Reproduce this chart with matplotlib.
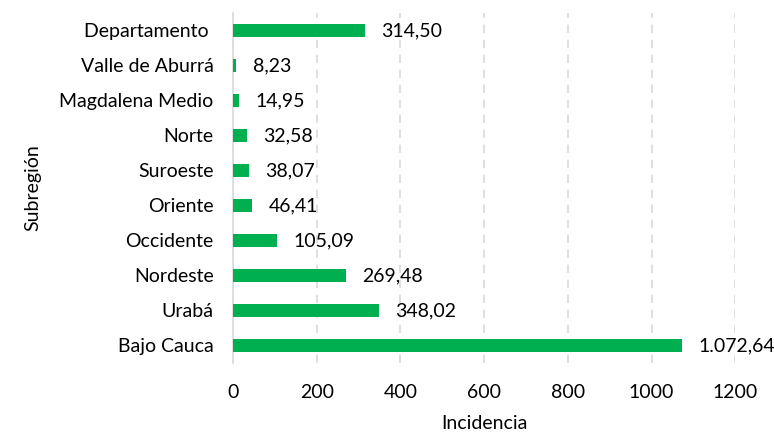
import matplotlib
matplotlib.use("Agg")
import matplotlib.pyplot as plt

# Datos (de arriba hacia abajo en el gráfico)
subregiones = ["Departamento ", "Valle de Aburrá", "Magdalena Medio", "Norte",
               "Suroeste", "Oriente", "Occidente", "Nordeste", "Urabá", "Bajo Cauca"]
incidencia = [314.50, 8.23, 14.95, 32.58, 38.07, 46.41, 105.09, 269.48, 348.02, 1072.64]
xticks = [0, 200, 400, 600, 800, 1000, 1200]

VERDE = "#00B050"
plt.rcParams["font.family"] = ["Lato", "DejaVu Sans"]
FS = 14


def fmt_es(v):
    s = f"{v:,.2f}"
    return s.replace(",", "X").replace(".", ",").replace("X", ".")


fig = plt.figure(figsize=(7.74, 4.32), dpi=100)
ax = fig.add_axes([0.301, 0.160, 0.649, 0.810])

pos = list(range(len(subregiones)))[::-1]
ax.barh(pos, incidencia, height=0.38, color=VERDE, zorder=3)

for y, v in zip(pos, incidencia):
    ax.annotate(fmt_es(v), (v, y), xytext=(12, 0), textcoords="offset points",
                ha="left", va="center", fontsize=FS, color="black")

ax.set_xlim(0, 1200)
ax.set_ylim(-0.5, len(subregiones) - 0.5)
ax.set_yticks(pos)
ax.set_yticklabels(subregiones)
ax.set_xticks(xticks)
ax.tick_params(axis="y", length=0, pad=14, labelsize=FS)
ax.tick_params(axis="x", length=0, pad=15.5, labelsize=FS)

ax.grid(axis="x", color="#D9D9D9", linestyle=(0, (5, 4)), linewidth=1.2, zorder=0)
for s in ["top", "right", "bottom"]:
    ax.spines[s].set_visible(False)
ax.spines["left"].set_color("#D9D9D9")
ax.spines["left"].set_linewidth(1.2)

ax.set_xlabel("Incidencia", fontsize=FS, labelpad=10)
ax.set_ylabel("Subregión", fontsize=FS, labelpad=13)

fig.savefig("out.png", dpi=100, facecolor="white")
